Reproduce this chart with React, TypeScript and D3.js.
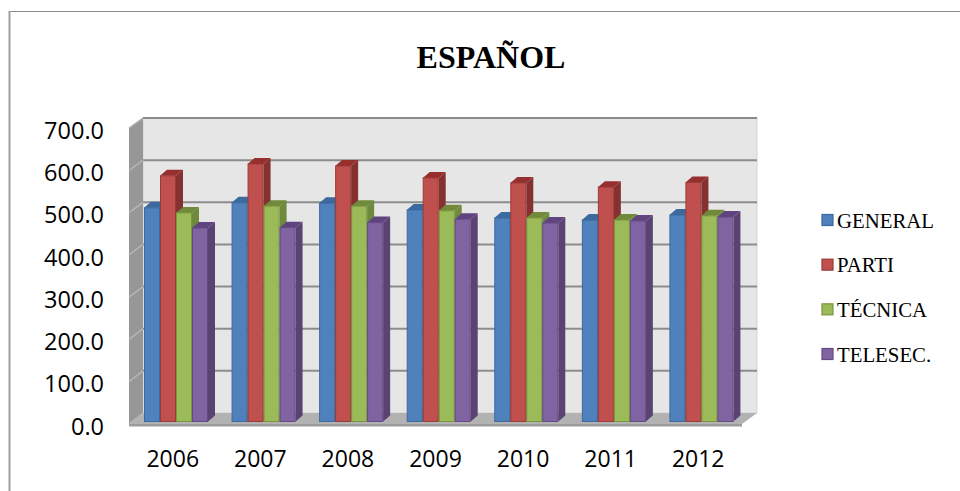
import React, { useEffect, useRef } from 'react';
import * as d3 from 'd3';

const years = ['2006', '2007', '2008', '2009', '2010', '2011', '2012'];
const seriesNames = ['GENERAL', 'PARTI', 'TÉCNICA', 'TELESEC.'];
const general = [507, 519, 518, 502, 483, 478, 490];
const parti = [583, 611, 606, 578, 566, 556, 567];
const tecnica = [495, 511, 511, 500, 483, 478, 488];
const telesec = [459, 460, 472, 480, 471, 476, 485];
const seriesValues = [general, parti, tecnica, telesec];
const yTicks = [0, 100, 200, 300, 400, 500, 600, 700];

// front, side, top, border
const palette = [
  ['#4f81bd', '#335f91', '#3d6a9e', '#3a689f'],
  ['#c0504d', '#843130', '#96302e', '#9a3b38'],
  ['#9bbb59', '#6f8a3c', '#71893a', '#7b963f'],
  ['#8064a2', '#5a4272', '#5f447f', '#644a85'],
];

const App = () => {
  const svgRef = useRef<SVGSVGElement>(null);

  useEffect(() => {
    const svg = d3.select(svgRef.current);
    svg.selectAll('*').remove();

    const left = 129;
    const right = 742;
    const depthX = 14;
    const barDepthX = 7;
    const barDepthY = 6;

    const xScale = d3.scaleBand().domain(years).range([left, right]);
    const seriesScale = d3.scaleBand().domain(seriesNames).range([15, 79]);

    // three vertical planes: front of the box, back wall, front of the bars
    const yFront = d3.scaleLinear().domain([0, 700]).range([424, 128]);
    const yBack = d3.scaleLinear().domain([0, 700]).range([413, 118]);
    const yBar = d3.scaleLinear().domain([0, 700]).range([421.5, 126.5]);

    const poly = (pts: number[][]) => pts.map(p => p.join(',')).join(' ');

    // Page rules
    svg.append('line').attr('x1', 9).attr('x2', 960).attr('y1', 11.5).attr('y2', 11.5)
      .attr('stroke', '#8c8c8c').attr('stroke-width', 1.2);
    svg.append('line').attr('x1', 9.5).attr('x2', 9.5).attr('y1', 11).attr('y2', 491)
      .attr('stroke', '#a0a0a0').attr('stroke-width', 2);

    // Title
    svg.append('text').attr('x', 491).attr('y', 68).attr('text-anchor', 'middle')
      .attr('font-family', '"Liberation Serif", serif').attr('font-weight', 'bold')
      .attr('font-size', 32).attr('fill', '#000').text('ESPAÑOL');

    // Back wall
    svg.append('rect').attr('x', left + depthX).attr('y', yBack(700))
      .attr('width', right + 15 - left - depthX).attr('height', yBack(0) - yBack(700))
      .attr('fill', '#e6e6e6').attr('stroke', '#d4d4d4');
    svg.append('line').attr('x1', left + depthX).attr('x2', right + 15)
      .attr('y1', yBack(700)).attr('y2', yBack(700))
      .attr('stroke', '#8c8c8c').attr('stroke-width', 2);

    // Left wall
    svg.append('polygon')
      .attr('points', poly([[left, yFront(700)], [left + depthX, yBack(700)], [left + depthX, yBack(0)], [left, yFront(0)]]))
      .attr('fill', '#979797');

    // Floor
    svg.append('polygon')
      .attr('points', poly([[left, yFront(0)], [left + depthX, yBack(0)], [right + 15, yBack(0)], [right, yFront(0)]]))
      .attr('fill', '#b2b2b2');
    svg.append('rect').attr('x', left).attr('y', yFront(0)).attr('width', right - left).attr('height', 2.5)
      .attr('fill', '#9c9c9c');

    // Grid lines on the wall and side
    yTicks.forEach(t => {
      if (t > 0 && t < 700) {
        svg.append('line').attr('x1', left + depthX).attr('x2', right + 15)
          .attr('y1', yBack(t)).attr('y2', yBack(t))
          .attr('stroke', '#8c8c8c').attr('stroke-width', 2);
      }
      svg.append('line').attr('x1', left).attr('x2', left + depthX)
        .attr('y1', yFront(t)).attr('y2', yBack(t))
        .attr('stroke', '#b5b5b5').attr('stroke-width', 1.5);

      svg.append('text').attr('x', 104).attr('y', yFront(t) + 10.7).attr('text-anchor', 'end')
        .attr('font-family', '"Open Sans", sans-serif').attr('font-size', 23.5).attr('fill', '#000')
        .text(t.toFixed(1));
    });

    // Bars
    years.forEach((year, i) => {
      seriesNames.forEach((name, s) => {
        const x0 = (xScale(year) as number) + (seriesScale(name) as number);
        const x1 = x0 + seriesScale.bandwidth();
        const top = yBar(seriesValues[s][i]);
        const base = yBar(0);
        const [front, side, cap, border] = palette[s];
        const g = svg.append('g');

        g.append('polygon')
          .attr('points', poly([[x1, top], [x1 + barDepthX, top - barDepthY], [x1 + barDepthX, base - barDepthY], [x1, base]]))
          .attr('fill', side);
        g.append('polygon')
          .attr('points', poly([[x0, top], [x0 + barDepthX, top - barDepthY], [x1 + barDepthX, top - barDepthY], [x1, top]]))
          .attr('fill', cap);
        g.append('rect').attr('x', x0 + 0.5).attr('y', top).attr('width', x1 - x0 - 1).attr('height', base - top)
          .attr('fill', front).attr('stroke', border).attr('stroke-width', 1);
      });
    });

    // Year labels
    years.forEach(year => {
      svg.append('text').attr('x', (xScale(year) as number) + xScale.bandwidth() / 2).attr('y', 467)
        .attr('text-anchor', 'middle').attr('font-family', '"Open Sans", sans-serif')
        .attr('font-size', 23).attr('fill', '#000').text(year);
    });

    // Legend
    const legendY = d3.scalePoint().domain(seriesNames).range([220, 354]);
    seriesNames.forEach((name, s) => {
      const cy = legendY(name) as number;
      svg.append('rect').attr('x', 822).attr('y', cy - 5.5).attr('width', 11).attr('height', 11)
        .attr('fill', palette[s][0]).attr('stroke', palette[s][3]).attr('stroke-width', 1.2);
      svg.append('text').attr('x', 837).attr('y', cy + 7.5)
        .attr('font-family', '"Liberation Serif", serif').attr('font-size', 20.8).attr('fill', '#000')
        .text(name);
    });
  }, []);

  return (
    <svg ref={svgRef} width={960} height={491}
      style={{ position: 'absolute', left: 0, top: 0, background: '#fff' }} />
  );
};

export default App;
